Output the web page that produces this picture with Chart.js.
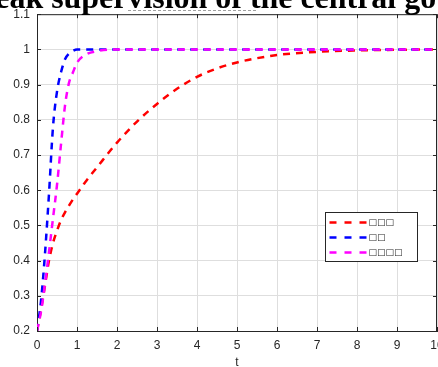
<!DOCTYPE html>
<html>
<head>
  <meta charset="UTF-8">
  <title>Step response</title>
  <script src="https://cdn.jsdelivr.net/npm/chart.js"></script>
  <style>
    html, body {
      margin: 0;
      padding: 0;
      background: #fff;
      overflow: hidden;
    }
    #wrap {
      width: 470px;
      height: 367px;
    }
  </style>
</head>
<body>
  <div id="wrap"><canvas id="grafico"></canvas></div>

  <script>
    // data
    const tVals = [0, 0.1, 0.2, 0.3, 0.4, 0.5, 0.6, 0.7, 0.8, 0.9, 1, 1.2, 1.5, 2, 2.5, 3, 3.5, 4, 4.5, 5, 5.5, 6, 7, 8, 9, 10];
    const redVals = [0.2, 0.26, 0.33, 0.40, 0.45, 0.485, 0.515, 0.537, 0.556, 0.574, 0.59, 0.622, 0.665, 0.735, 0.795, 0.845, 0.888, 0.922, 0.946, 0.963, 0.975, 0.984, 0.993, 0.997, 0.999, 1.0];
    const blueVals = [0.2, 0.285, 0.42, 0.59, 0.78, 0.88, 0.935, 0.972, 0.988, 0.996, 1, 1, 1, 1, 1, 1, 1, 1, 1, 1, 1, 1, 1, 1, 1, 1];
    const magentaVals = [0.2, 0.255, 0.334, 0.425, 0.52, 0.615, 0.73, 0.84, 0.905, 0.935, 0.962, 0.984, 0.995, 1, 1, 1, 1, 1, 1, 1, 1, 1, 1, 1, 1, 1];
    const seriesNames = ["□□□", "□□", "□□□□"];
    const seriesColors = ["#ff0000", "#0000ff", "#ff00ff"];
    const xTicks = [0, 1, 2, 3, 4, 5, 6, 7, 8, 9, 10];
    const yTicks = [0.2, 0.3, 0.4, 0.5, 0.6, 0.7, 0.8, 0.9, 1, 1.1];
    const titulo = "Weak supervision of the central government";

    const axisColor = "#262626";
    const dash = [7, 6];

    function pontos(vals) {
      return tVals.map((t, i) => ({ x: t, y: vals[i] }));
    }

    // box, inward ticks, legend and clipped title
    const extras = {
      id: "extras",
      afterDraw(chart) {
        const ctx = chart.ctx;
        const a = chart.chartArea;
        const sx = chart.scales.x, sy = chart.scales.y;
        ctx.save();
        ctx.strokeStyle = axisColor;
        ctx.lineWidth = 1;
        ctx.beginPath();
        ctx.moveTo(a.left, a.top + 0.5);
        ctx.lineTo(a.right, a.top + 0.5);
        ctx.moveTo(a.right - 0.5, a.top);
        ctx.lineTo(a.right - 0.5, a.bottom);
        xTicks.forEach(v => {
          const x = Math.round(sx.getPixelForValue(v)) + 0.5;
          ctx.moveTo(x, a.bottom); ctx.lineTo(x, a.bottom - 4);
          ctx.moveTo(x, a.top); ctx.lineTo(x, a.top + 4);
        });
        yTicks.forEach(v => {
          const y = Math.round(sy.getPixelForValue(v)) + 0.5;
          ctx.moveTo(a.left, y); ctx.lineTo(a.left + 4, y);
          ctx.moveTo(a.right, y); ctx.lineTo(a.right - 4, y);
        });
        ctx.stroke();

        // legend
        const lx = 325.5, ly = 212.5, lw = 92, lh = 49;
        ctx.fillStyle = "#fff";
        ctx.fillRect(lx, ly, lw, lh);
        ctx.strokeStyle = axisColor;
        ctx.strokeRect(lx, ly, lw, lh);
        ctx.font = 'bold 9px "DejaVu Sans"';
        ctx.textBaseline = "middle";
        seriesNames.forEach((name, i) => {
          const y = ly + 10 + i * 15;
          ctx.strokeStyle = seriesColors[i];
          ctx.lineWidth = 2.5;
          ctx.setLineDash([7, 8]);
          ctx.beginPath();
          ctx.moveTo(lx + 4, y);
          ctx.lineTo(lx + 42, y);
          ctx.stroke();
          ctx.setLineDash([]);
          ctx.fillStyle = axisColor;
          ctx.fillText(name, lx + 43, y + 0.5);
        });

        // title, cut off by the top edge
        ctx.font = 'bold 24px "Liberation Serif"';
        const w = ctx.measureText("eak supervision of the central go").width;
        const size = 24 * 441 / w;
        ctx.font = "bold " + size.toFixed(2) + 'px "Liberation Serif"';
        const wW = ctx.measureText("W").width;
        ctx.strokeStyle = "#a0a0a0";
        ctx.lineWidth = 1;
        ctx.setLineDash([3, 2]);
        ctx.beginPath();
        ctx.moveTo(128, 10.5);
        ctx.lineTo(258, 10.5);
        ctx.stroke();
        ctx.setLineDash([]);
        ctx.fillStyle = "#000";
        ctx.textBaseline = "alphabetic";
        ctx.fillText(titulo, -3 - wW, 7.5);
        ctx.restore();
      }
    };

    const ctx = document.getElementById("grafico").getContext("2d");
    new Chart(ctx, {
      type: "line",
      data: {
        datasets: [
          { label: seriesNames[0], data: pontos(redVals), borderColor: seriesColors[0], order: 2 },
          { label: seriesNames[1], data: pontos(blueVals), borderColor: seriesColors[1], order: 1 },
          { label: seriesNames[2], data: pontos(magentaVals), borderColor: seriesColors[2], order: 0 }
        ].map(d => Object.assign(d, {
          borderWidth: 2.5,
          borderDash: dash,
          pointRadius: 0,
          fill: false,
          cubicInterpolationMode: "monotone"
        }))
      },
      options: {
        responsive: true,
        maintainAspectRatio: false,
        animation: false,
        devicePixelRatio: 1,
        layout: { padding: { left: 0, top: 14, right: 33, bottom: 0 } },
        plugins: {
          legend: { display: false },
          tooltip: { enabled: false }
        },
        scales: {
          x: {
            type: "linear",
            min: 0,
            max: 10,
            afterBuildTicks: s => { s.ticks = xTicks.map(v => ({ value: v })); },
            afterFit: s => { s.height = 36; },
            grid: { color: "#dedede", drawTicks: false },
            border: { color: axisColor },
            ticks: {
              color: axisColor,
              padding: 7,
              font: { family: "Liberation Sans", size: 12 }
            },
            title: {
              display: true,
              text: "t",
              color: axisColor,
              font: { family: "Liberation Sans", size: 12 },
              padding: { top: 0, bottom: -3 }
            }
          },
          y: {
            min: 0.2,
            max: 1.1,
            afterBuildTicks: s => { s.ticks = yTicks.map(v => ({ value: v })); },
            afterFit: s => { s.width = 37; },
            grid: { color: "#dedede", drawTicks: false },
            border: { color: axisColor },
            ticks: {
              color: axisColor,
              padding: 7,
              font: { family: "Liberation Sans", size: 12 },
              callback: v => String(+Number(v).toFixed(1))
            }
          }
        }
      },
      plugins: [extras]
    });
  </script>
</body>
</html>
